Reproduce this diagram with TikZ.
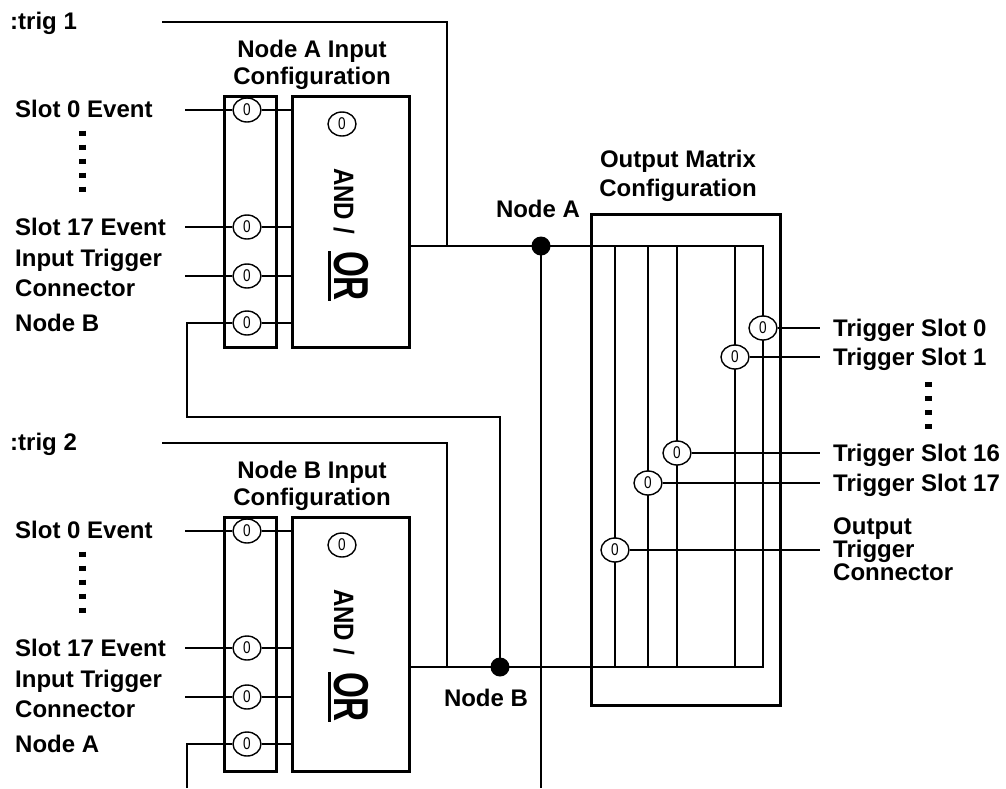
\documentclass[tikz,border=0pt]{standalone}
\usepackage{fontspec}
\setmainfont{Liberation Sans}
\newfontfamily\selfont{Liberation Sans}[FakeStretch=0.8]
\newfontfamily\andfont{Liberation Sans}[FakeStretch=0.86]
\newfontfamily\orfont{Liberation Sans}[FakeStretch=0.68]
\usetikzlibrary{shapes.geometric}
\newcommand\thickul[1]{\setbox0\hbox{#1}\rlap{\rule[-6.5pt]{\wd0}{3pt}}\box0}
\begin{document}
\begin{tikzpicture}[x=1pt,y=-1pt,
  wire/.style={line width=2.9pt},
  frame/.style={draw,line width=2.9pt,inner sep=0pt,anchor=north west},
  sel/.style={draw,ellipse,line width=1.4pt,fill=white,inner sep=0pt,minimum width=28pt,minimum height=24pt,font=\selfont\fontsize{17}{17}\selectfont},
  lbl/.style={inner sep=0pt,font=\bfseries\fontsize{24}{24}\selectfont},
  jdot/.style={circle,fill=black,inner sep=0pt,minimum size=19pt},
  vdots/.style={line width=7pt,dash pattern=on 5pt off 9pt},
  gatetext/.style={rotate=-90,anchor=base west,inner sep=0pt}]
\useasboundingbox (0,0) rectangle (1006,788);
\coordinate (bot) at (0,788);

% ================= Node A section =================
\node[lbl,anchor=base west] (trig1) at (10,29) {:trig 1};
\node[lbl,anchor=north,align=center,font=\bfseries\fontsize{24}{27}\selectfont] (titleA) at (312,39.5) {Node A Input\\Configuration};
\node[frame,minimum width=52pt,minimum height=251pt] (colA) at (223,95) {};
\node[frame,minimum width=117pt,minimum height=251pt] (gateA) at (291,95) {};

\node[lbl,anchor=base west] (sA0) at (15,117) {Slot 0 Event};
\node[lbl,anchor=base west] (sA17) at (15,235) {Slot 17 Event};
\node[lbl,anchor=north west,align=left,font=\bfseries\fontsize{24}{30}\selectfont] (itA) at (15,248.7) {Input Trigger\\Connector};
\node[lbl,anchor=base west] (nbA) at (15,331) {Node B};
\draw[vdots] (82,130.5) -- (82,191.5);

\node[sel] (cA0) at (247,110) {0};
\node[sel] (cA17) at (247,227) {0};
\node[sel] (cAit) at (247,276) {0};
\node[sel] (cAnb) at (247,323) {0};
\node[sel] (cAg) at (342,124) {0};

\coordinate (wA0) at (185,110);
\coordinate (wA17) at (185,227);
\coordinate (wAit) at (185,276);
\draw[wire] (wA0) -- (cA0);
\draw[wire] (wA17) -- (cA17);
\draw[wire] (wAit) -- (cAit);
\draw[wire] (cA0) -- (cA0 -| gateA.west);
\draw[wire] (cA17) -- (cA17 -| gateA.west);
\draw[wire] (cAit) -- (cAit -| gateA.west);
\draw[wire] (cAnb) -- (cAnb -| gateA.west);

\node[gatetext] (opA) at (334,168) {\andfont\bfseries\fontsize{28}{28}\selectfont AND\hspace{7pt}/\hspace{17pt}\thickul{\orfont\bfseries\fontsize{49}{49}\selectfont OR}};

% ================= Node B section =================
\node[lbl,anchor=base west] (trig2) at (10,450) {:trig 2};
\node[lbl,anchor=north,align=center,font=\bfseries\fontsize{24}{27}\selectfont] (titleB) at (312,460.5) {Node B Input\\Configuration};
\node[frame,minimum width=52pt,minimum height=254pt] (colB) at (223,516) {};
\node[frame,minimum width=117pt,minimum height=254pt] (gateB) at (291,516) {};

\node[lbl,anchor=base west] (sB0) at (15,538) {Slot 0 Event};
\node[lbl,anchor=base west] (sB17) at (15,656) {Slot 17 Event};
\node[lbl,anchor=north west,align=left,font=\bfseries\fontsize{24}{30}\selectfont] (itB) at (15,669.7) {Input Trigger\\Connector};
\node[lbl,anchor=base west] (naB) at (15,752) {Node A};
\draw[vdots] (82,551.5) -- (82,612.5);

\node[sel] (cB0) at (247,531) {0};
\node[sel] (cB17) at (247,648) {0};
\node[sel] (cBit) at (247,697) {0};
\node[sel] (cBna) at (247,744) {0};
\node[sel] (cBg) at (342,545) {0};

\coordinate (wB0) at (185,531);
\coordinate (wB17) at (185,648);
\coordinate (wBit) at (185,697);
\draw[wire] (wB0) -- (cB0);
\draw[wire] (wB17) -- (cB17);
\draw[wire] (wBit) -- (cBit);
\draw[wire] (cB0) -- (cB0 -| gateB.west);
\draw[wire] (cB17) -- (cB17 -| gateB.west);
\draw[wire] (cBit) -- (cBit -| gateB.west);
\draw[wire] (cBna) -- (cBna -| gateB.west);

\node[gatetext] (opB) at (334,589) {\andfont\bfseries\fontsize{28}{28}\selectfont AND\hspace{7pt}/\hspace{17pt}\thickul{\orfont\bfseries\fontsize{49}{49}\selectfont OR}};

% ================= junctions and cross feeds =================
\node[jdot] (dA) at (541,246) {};
\node[jdot] (dB) at (500,667) {};
\node[lbl,anchor=base] (labA) at (538,217) {Node A};
\node[lbl,anchor=base] (labB) at (486,706) {Node B};

\coordinate (tA) at (162,22);
\coordinate (jA) at (447,246);
\coordinate (tB) at (162,443);
\coordinate (jB) at (447,667);
\draw[wire] (tA) -| (jA);
\draw[wire] (tB) -| (jB);
\draw[wire] (gateA.east |- dA) -- (dA.center);
\draw[wire] (gateB.east |- dB) -- (dB.center);

\coordinate (fbA) at (187,417);
\coordinate (fbB) at (187,788);
\draw[wire] (cAnb) -| (fbA) -| (dB.center);
\draw[wire] (cBna) -| (fbB);
\draw[wire] (dA.center) -- (dA.center |- bot);

% ================= output matrix =================
\node[frame,minimum width=189pt,minimum height=491pt] (mat) at (590,213) {};
\node[lbl,anchor=north,align=center,font=\bfseries\fontsize{24}{29}\selectfont] (matT) at (678,149.7) {Output Matrix\\Configuration};

\coordinate (busTR) at (763,246);
\coordinate (busBR) at (763,667);
\draw[wire] (dA.center) -- (busTR) -- (busBR) -- (dB.center);
\foreach \x in {615,648,677,735} \draw[wire] (\x,246) -- (\x,667);

\node[sel] (m0) at (763,328) {0};
\node[sel] (m1) at (735,357) {0};
\node[sel] (m16) at (677,453) {0};
\node[sel] (m17) at (648,483) {0};
\node[sel] (mo) at (615,550) {0};

\coordinate (e0) at (820,328);
\coordinate (e1) at (820,357);
\coordinate (e16) at (820,453);
\coordinate (e17) at (820,483);
\coordinate (eo) at (820,550);
\draw[wire] (m0) -- (e0);
\draw[wire] (m1) -- (e1);
\draw[wire] (m16) -- (e16);
\draw[wire] (m17) -- (e17);
\draw[wire] (mo) -- (eo);

\node[lbl,anchor=base west] (t0) at (833,336.6) {Trigger Slot 0};
\node[lbl,anchor=base west] (t1) at (833,365.6) {Trigger Slot 1};
\node[lbl,anchor=base west] (t16) at (833,461.6) {Trigger Slot 16};
\node[lbl,anchor=base west] (t17) at (833,491.6) {Trigger Slot 17};
\draw[vdots] (928,382) -- (928,429);
\node[lbl,anchor=north west,align=left,font=\bfseries\fontsize{24}{23}\selectfont] (otc) at (833,517.5) {Output\\Trigger\\Connector};
\end{tikzpicture}
\end{document}
